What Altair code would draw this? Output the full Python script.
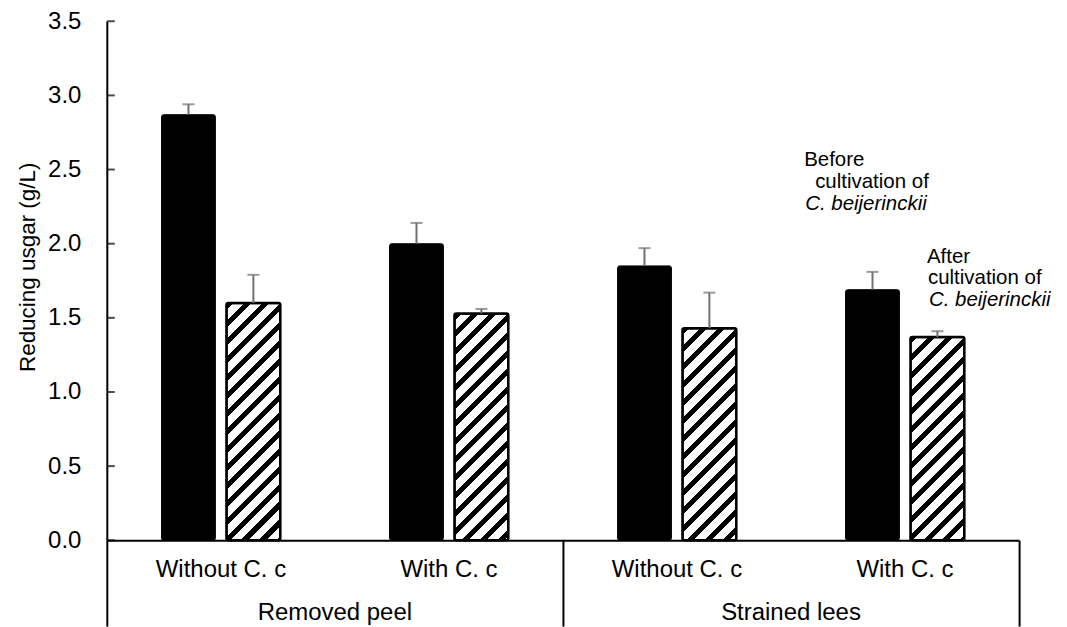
import math
import altair as alt
import pandas as pd

# ---------------- data ----------------
outer_groups = ["Removed peel", "Removed peel", "Strained lees", "Strained lees"]
inner_groups = ["Without C. c", "With C. c", "Without C. c", "With C. c"]
series_names = ["Before cultivation", "After cultivation"]
before_values = [2.87, 2.00, 1.85, 1.69]
before_errors = [0.07, 0.14, 0.12, 0.12]
after_values = [1.60, 1.53, 1.43, 1.37]
after_errors = [0.19, 0.03, 0.24, 0.04]
y_tick_values = [0.0, 0.5, 1.0, 1.5, 2.0, 2.5, 3.0, 3.5]

# annotation lines (anchored at last category, y in data units = text baseline)
ann_lines = ["Before", "cultivation of", "C. beijerinckii",
             "After", "cultivation of", "C. beijerinckii"]
ann_y = [2.522, 2.374, 2.226, 1.8725, 1.728, 1.583]
ann_italic = [False, False, True, False, False, True]
ann_shift = [-101, -90, -100, 22, 23, 24]

# ---------------- layout constants ----------------
W, H = 914, 520
Y_MAX = 3.5
FONT = "Liberation Sans"
PAD_INNER, PAD_OUTER = 0.479, 0.24
OFF_INNER = 0.17

subs = [f"{o}|{i}" for o, i in zip(outer_groups, inner_groups)]
step = W / (len(subs) - PAD_INNER + 2 * PAD_OUTER)
band = step * (1 - PAD_INNER)
bar_w = band / (2 - OFF_INNER) * (1 - OFF_INNER)


def hatch(value, period=18.0, frac=0.4):
    w = bar_w
    h = value * H / Y_MAX
    s = (w + h) / (w * w + h * h)
    n = (w + h) / period
    stops = []
    k = 0
    while k / n < 1:
        a = k / n
        b = min((k + frac) / n, 1.0)
        c = min((k + 1) / n, 1.0)
        stops += [
            {"offset": round(a, 5), "color": "#000000"},
            {"offset": round(b, 5), "color": "#000000"},
            {"offset": round(b, 5), "color": "#ffffff"},
            {"offset": round(c, 5), "color": "#ffffff"},
        ]
        k += 1
    return {"gradient": "linear", "x1": 0, "y1": 0,
            "x2": round(w * s, 5), "y2": round(h * s, 5), "stops": stops}


rows = []
for i, sub in enumerate(subs):
    rows.append({"sub": sub, "outer": outer_groups[i], "series": series_names[0],
                 "value": before_values[i], "upper": before_values[i] + before_errors[i],
                 "fill": "#000000"})
    rows.append({"sub": sub, "outer": outer_groups[i], "series": series_names[1],
                 "value": after_values[i], "upper": after_values[i] + after_errors[i],
                 "fill": hatch(after_values[i])})
df = pd.DataFrame(rows)

ann_df = pd.DataFrame({"text": ann_lines, "y": ann_y, "italic": ann_italic,
                       "shift": ann_shift, "sub": [subs[-1]] * len(ann_lines)})
tick_df = pd.DataFrame({"t": y_tick_values})
outer_df = pd.DataFrame({"outer": ["Removed peel", "Strained lees"]})

x_axis = alt.Axis(title=None, orient="bottom",
                  labelExpr="split(datum.label, '|')[1]",
                  labelAngle=0, ticks=False, grid=False,
                  domainColor="black", domainWidth=2,
                  labelFont=FONT, labelFontSize=24, labelColor="black",
                  labelPadding=17)
x_scale = alt.Scale(domain=subs, paddingInner=PAD_INNER, paddingOuter=PAD_OUTER)
x_main = alt.X("sub:N", scale=x_scale, axis=x_axis)
x_off = alt.XOffset("series:N", sort=series_names,
                    scale=alt.Scale(domain=series_names, paddingInner=OFF_INNER,
                                    paddingOuter=0))
y_scale = alt.Scale(domain=[0, Y_MAX], nice=False, zero=True)
y_axis = alt.Axis(title="Reducing usgar (g/L)", values=y_tick_values,
                  format=".1f", ticks=False, grid=False,
                  domainColor="black", domainWidth=2,
                  labelFont=FONT, labelFontSize=24, labelColor="black",
                  labelPadding=26, titleFont=FONT, titleFontSize=22.5,
                  titleFontWeight="normal", titleColor="black",
                  titlePadding=8, titleY=246)


def Y(field):
    return alt.Y(field, scale=y_scale, axis=y_axis)


base = alt.Chart(df)
bars = base.mark_bar(stroke="black", cornerRadius=2).encode(
    x=x_main, xOffset=x_off, y=Y("value:Q"),
    fill=alt.Fill("fill", scale=None),
    strokeWidth=alt.condition(alt.datum.series == series_names[0],
                              alt.value(1), alt.value(2.5)),
)
err = base.mark_rule(color="#707070", strokeWidth=2).encode(
    x=x_main, xOffset=x_off, y=Y("value:Q"), y2="upper:Q",
)
caps = base.mark_tick(orient="horizontal", size=12, thickness=2, color="#707070").encode(
    x=x_main, xOffset=x_off, y=Y("upper:Q"),
)
yticks = alt.Chart(tick_df).mark_tick(orient="horizontal", size=8, thickness=2,
                                      color="black").encode(
    x=alt.value(4), y=Y("t:Q"),
)

ann_layers = []
for shift in sorted(set(ann_shift)):
    for it in (False, True):
        sel = [t for t, s, i in zip(ann_lines, ann_shift, ann_italic)
               if s == shift and i == it]
        if not sel:
            continue
        ann_layers.append(
            alt.Chart(ann_df).transform_filter(
                (alt.datum.shift == shift) & (alt.datum.italic == it)
            ).mark_text(align="left", baseline="alphabetic", dx=shift, font=FONT,
                        fontSize=20.5, fontStyle="italic" if it else "normal",
                        color="black").encode(
                x=x_main, y=Y("y:Q"), text="text:N")
        )

inner = alt.layer(bars, err, caps, yticks, *ann_layers)

outer_layer = alt.Chart(outer_df).mark_text(
    baseline="alphabetic", font=FONT, fontSize=24, color="black"
).encode(
    x=alt.X("outer:N", scale=alt.Scale(paddingInner=0, paddingOuter=0),
            axis=alt.Axis(title=None, orient="bottom", labels=False, domain=False,
                          ticks=True, tickBand="extent", tickSize=86, tickWidth=2,
                          tickColor="black", grid=False)),
    y=alt.value(H + 80),
    text="outer:N",
)

chart = alt.layer(inner, outer_layer).resolve_scale(x="independent").resolve_axis(
    x="independent"
).properties(
    width=W, height=H,
    autosize=alt.AutoSizeParams(type="none"),
    padding={"left": 99, "top": 12.7, "right": 40, "bottom": 86},
).configure_view(stroke=None)

chart.save("out.html", embed_options={"renderer": "svg", "actions": False})
